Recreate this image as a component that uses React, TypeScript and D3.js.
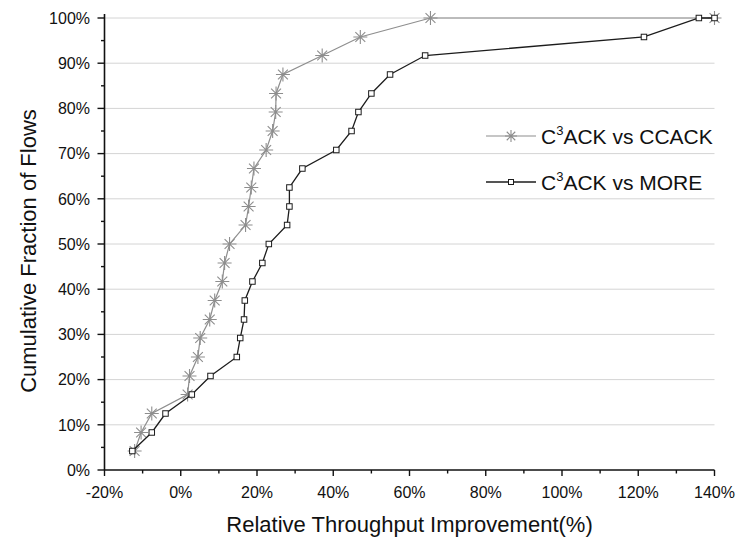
import React from "react";
import * as d3 from "d3";

const fractions = [4.2, 8.3, 12.5, 16.7, 20.8, 25, 29.2, 33.3, 37.5, 41.7, 45.8, 50, 54.2, 58.3, 62.5, 66.7, 70.8, 75, 79.2, 83.3, 87.5, 91.7, 95.8, 100, 100];
const ccackX = [-12.1, -10.4, -7.6, 1.8, 2.3, 4.5, 5.1, 7.6, 8.9, 10.9, 11.5, 12.8, 17.0, 17.8, 18.5, 19.2, 22.4, 24.1, 24.9, 25.0, 26.8, 37.1, 47.1, 65.5, 140];
const moreX = [-12.7, -7.6, -4.0, 2.9, 7.8, 14.7, 15.6, 16.6, 16.8, 18.8, 21.4, 23.1, 27.9, 28.5, 28.5, 31.9, 40.8, 44.8, 46.6, 50.0, 54.9, 64.1, 121.5, 135.9, 140];
const xTicks = [-20, 0, 20, 40, 60, 80, 100, 120, 140];
const yTicks = [0, 10, 20, 30, 40, 50, 60, 70, 80, 90, 100];
const seriesNames = ["CCACK", "MORE"];

const W = 739;
const H = 541;
const FONT = "'Liberation Sans', Arial, sans-serif";
const GREY = "#8e8e8e";
const DARK = "#1c1c1c";

const x = d3.scaleLinear().domain([-20, 140]).range([104.5, 714.5]);
const y = d3.scaleLinear().domain([0, 100]).range([470, 18]);

function Star({ cx, cy, r }: { cx: number; cy: number; r: number }) {
  const d = r * Math.SQRT1_2;
  const p = `M${cx - r},${cy}L${cx + r},${cy}M${cx},${cy - r}L${cx},${cy + r}M${cx - d},${cy - d}L${cx + d},${cy + d}M${cx - d},${cy + d}L${cx + d},${cy - d}`;
  return <path d={p} stroke={GREY} strokeWidth={1.1} fill="none" />;
}

function Sq({ cx, cy, s }: { cx: number; cy: number; s: number }) {
  return <rect x={cx - s / 2} y={cy - s / 2} width={s} height={s} fill="#fff" stroke={DARK} strokeWidth={1} />;
}

export default function App() {
  const ccack = ccackX.map((v, i) => [v, fractions[i]] as [number, number]);
  const more = moreX.map((v, i) => [v, fractions[i]] as [number, number]);
  const line = d3.line<[number, number]>().x((d) => x(d[0])).y((d) => y(d[1]));
  const xMinor = d3.range(-20, 141, 10);
  const yMinor = d3.range(0, 101, 5);
  return (
    <svg width={W} height={H} style={{ position: "absolute", left: 0, top: 0, background: "#fff" }} fontFamily={FONT}>
      <rect width={W} height={H} fill="#fff" />
      {yTicks.slice(1).map((t) => (
        <line key={"g" + t} x1={x(-20)} x2={x(140)} y1={y(t)} y2={y(t)} stroke="#d4d4d4" strokeWidth={1} />
      ))}
      {/* series */}
      <path d={line(ccack) || ""} fill="none" stroke={GREY} strokeWidth={1.2} />
      {ccack.map((d, i) => (
        <Star key={"s" + i} cx={x(d[0])} cy={y(d[1])} r={7} />
      ))}
      <path d={line(more) || ""} fill="none" stroke={DARK} strokeWidth={1.3} />
      {more.map((d, i) => (
        <Sq key={"q" + i} cx={x(d[0])} cy={y(d[1])} s={5.5} />
      ))}
      {/* axes */}
      <line x1={x(-20)} x2={x(140)} y1={y(0)} y2={y(0)} stroke="#111" strokeWidth={1.6} />
      <line x1={x(-20)} x2={x(-20)} y1={y(0)} y2={y(100) - 4} stroke="#111" strokeWidth={1.6} />
      {xMinor.map((t) => (
        <line key={"xt" + t} x1={x(t)} x2={x(t)} y1={y(0)} y2={y(0) + (t % 20 === 0 ? 6 : 3.5)} stroke="#111" strokeWidth={1.4} />
      ))}
      {yMinor.map((t) => (
        <line key={"yt" + t} x1={x(-20)} x2={x(-20) - (t % 10 === 0 ? 7 : 3.5)} y1={y(t)} y2={y(t)} stroke="#111" strokeWidth={1.4} />
      ))}
      {xTicks.map((t) => (
        <text key={"xl" + t} x={x(t)} y={498} textAnchor="middle" fontSize={16} fill="#111">
          {t + "%"}
        </text>
      ))}
      {yTicks.map((t) => (
        <text key={"yl" + t} x={90} y={y(t) + 5.8} textAnchor="end" fontSize={16} fill="#111">
          {t + "%"}
        </text>
      ))}
      <text x={x(60)} y={532} textAnchor="middle" fontSize={22} fill="#111">
        Relative Throughput Improvement(%)
      </text>
      <text transform={`translate(36,251) rotate(-90)`} textAnchor="middle" fontSize={22} fill="#111">
        Cumulative Fraction of Flows
      </text>
      {/* legend */}
      {seriesNames.map((name, i) => {
        const cy = 136 + i * 46;
        return (
          <g key={name}>
            <line x1={486} x2={536} y1={cy} y2={cy} stroke={i === 0 ? GREY : DARK} strokeWidth={i === 0 ? 1.2 : 1.3} />
            {i === 0 ? <Star cx={511} cy={cy} r={6} /> : <Sq cx={511} cy={cy} s={5} />}
            <text x={541} y={cy + 7.5} fontSize={21} fill="#111">
              C<tspan fontSize={13} dy={-9}>3</tspan>
              <tspan dy={9}>{"ACK vs " + (i === 0 ? "CCACK" : "MORE")}</tspan>
            </text>
          </g>
        );
      })}
    </svg>
  );
}
